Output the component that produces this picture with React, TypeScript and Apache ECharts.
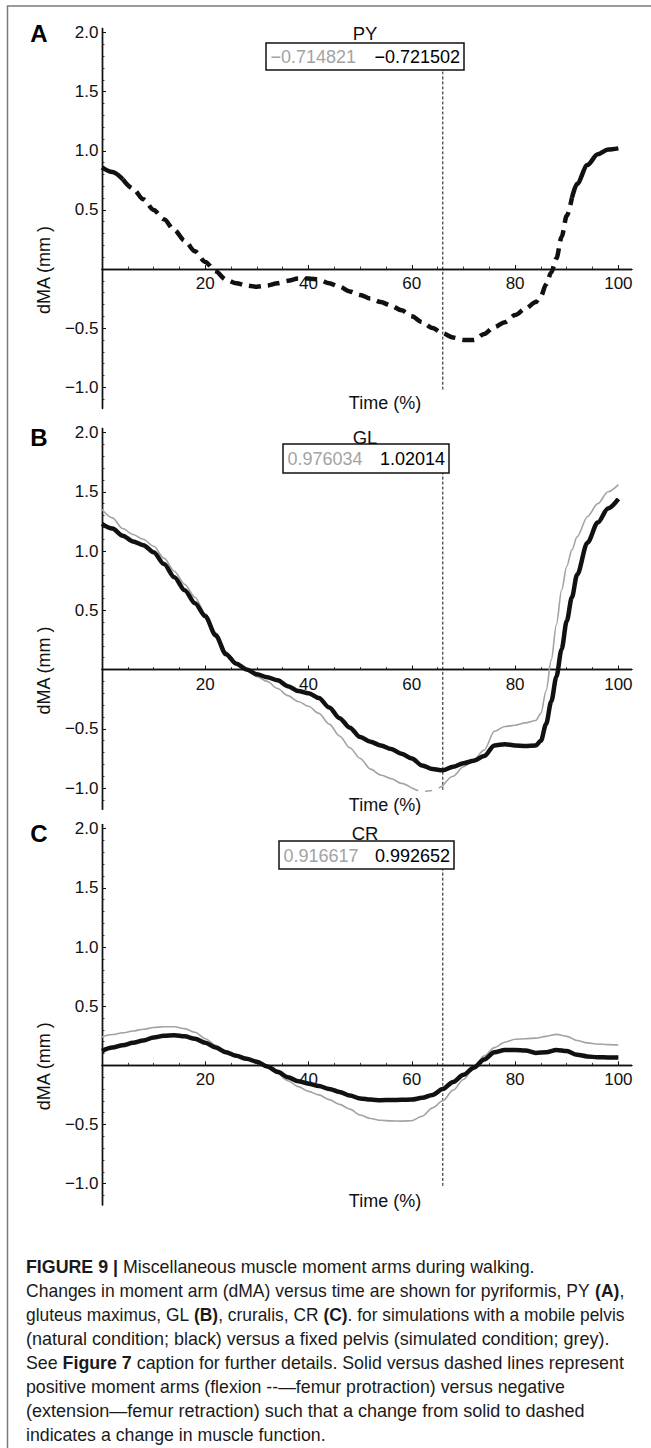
import React, { useEffect, useRef } from "react";
import * as echarts from "echarts";

// ---------- data ----------
const TIME_AB = [0, 2, 4, 6, 8, 10, 12, 14, 16, 18, 20, 22, 24, 26, 28, 30, 32, 34, 36, 38, 40, 42, 44, 46, 48, 50, 52, 54, 56, 58, 60, 62, 64, 66, 68, 70, 72, 74, 76, 78, 80, 82, 84, 85, 86, 87, 88, 89, 90, 91, 92, 94, 96, 98, 100];
const PY_BLACK = [0.86, 0.82, 0.76, 0.68, 0.59, 0.5, 0.42, 0.33, 0.24, 0.15, 0.06, -0.02, -0.09, -0.12, -0.14, -0.15, -0.14, -0.12, -0.1, -0.08, -0.08, -0.09, -0.12, -0.15, -0.19, -0.22, -0.25, -0.28, -0.31, -0.35, -0.4, -0.45, -0.5, -0.545, -0.58, -0.6, -0.6, -0.55, -0.49, -0.45, -0.39, -0.335, -0.28, -0.23, -0.13, -0.03, 0.09, 0.27, 0.45, 0.6, 0.72, 0.88, 0.97, 1.01, 1.02];
const GL_BLACK = [1.23, 1.19, 1.13, 1.08, 1.05, 0.99, 0.89, 0.78, 0.67, 0.56, 0.45, 0.29, 0.13, 0.05, 0.0, -0.04, -0.065, -0.09, -0.14, -0.18, -0.2, -0.24, -0.32, -0.41, -0.49, -0.57, -0.61, -0.64, -0.67, -0.71, -0.75, -0.81, -0.84, -0.85, -0.82, -0.79, -0.77, -0.73, -0.64, -0.63, -0.64, -0.645, -0.64, -0.6, -0.46, -0.27, -0.06, 0.17, 0.41, 0.61, 0.8, 1.07, 1.24, 1.36, 1.44];
const GL_GREY = [1.35, 1.28, 1.19, 1.14, 1.1, 1.04, 0.94, 0.83, 0.72, 0.61, 0.47, 0.31, 0.15, 0.06, 0.0, -0.06, -0.1, -0.16, -0.22, -0.27, -0.31, -0.37, -0.46, -0.56, -0.66, -0.75, -0.84, -0.89, -0.92, -0.96, -1.0, -1.03, -1.02, -0.98, -0.9, -0.82, -0.76, -0.68, -0.52, -0.48, -0.47, -0.45, -0.43, -0.37, -0.18, 0.08, 0.38, 0.67, 0.87, 1.01, 1.12, 1.29, 1.4, 1.5, 1.56];
const TIME_C = [0, 2, 4, 6, 8, 10, 12, 14, 16, 18, 20, 22, 24, 26, 28, 30, 32, 34, 36, 38, 40, 42, 44, 46, 48, 50, 52, 54, 56, 58, 60, 62, 64, 66, 68, 70, 72, 74, 76, 78, 80, 82, 84, 86, 88, 90, 92, 94, 96, 98, 100];
const CR_BLACK = [0.12, 0.15, 0.17, 0.19, 0.21, 0.235, 0.25, 0.255, 0.245, 0.225, 0.19, 0.15, 0.11, 0.08, 0.055, 0.03, -0.01, -0.055, -0.1, -0.135, -0.155, -0.175, -0.2, -0.225, -0.255, -0.28, -0.29, -0.295, -0.293, -0.292, -0.29, -0.275, -0.25, -0.2, -0.14, -0.08, -0.02, 0.05, 0.11, 0.13, 0.13, 0.125, 0.105, 0.11, 0.13, 0.12, 0.09, 0.075, 0.068, 0.067, 0.067];
const CR_GREY = [0.24, 0.26, 0.275, 0.29, 0.305, 0.32, 0.326, 0.326, 0.31, 0.28, 0.225, 0.17, 0.12, 0.09, 0.065, 0.03, -0.015, -0.07, -0.13, -0.18, -0.22, -0.25, -0.29, -0.33, -0.37, -0.42, -0.45, -0.465, -0.47, -0.472, -0.468, -0.43, -0.36, -0.3, -0.21, -0.12, -0.02, 0.08, 0.15, 0.195, 0.22, 0.225, 0.23, 0.245, 0.262, 0.245, 0.21, 0.19, 0.18, 0.175, 0.172];

const CURSOR_TIME = 66;
const PANEL_LETTERS = ["A", "B", "C"];
const PANEL_TITLES = ["PY", "GL", "CR"];
const BOX_GREY = ["\u22120.714821", "0.976034", "0.916617"];
const BOX_BLACK = ["\u22120.721502", "1.02014", "0.992652"];

const X_MAJOR = [20, 40, 60, 80, 100];
const X_MINOR = [5, 10, 15, 25, 30, 35, 45, 50, 55, 65, 70, 75, 85, 90, 95];
const Y_MAJOR = [-1, -0.5, 0.5, 1, 1.5, 2];
const Y_MINOR = [-1.1, -0.9, -0.8, -0.7, -0.6, -0.4, -0.3, -0.2, -0.1, 0.1, 0.2, 0.3, 0.4, 0.6, 0.7, 0.8, 0.9, 1.1, 1.2, 1.3, 1.4, 1.6, 1.7, 1.8, 1.9];

const CAPTION: [string, boolean][][] = [
  [["FIGURE 9 |", true], [" Miscellaneous muscle moment arms during walking.", false]],
  [["Changes in moment arm (dMA) versus time are shown for pyriformis, PY ", false], ["(A)", true], [",", false]],
  [["gluteus maximus, GL ", false], ["(B)", true], [", cruralis, CR ", false], ["(C)", true], [". for simulations with a mobile pelvis", false]],
  [["(natural condition; black) versus a fixed pelvis (simulated condition; grey).", false]],
  [["See ", false], ["Figure 7", true], [" caption for further details. Solid versus dashed lines represent", false]],
  [["positive moment arms (flexion --\u2014femur protraction) versus negative", false]],
  [["(extension\u2014femur retraction) such that a change from solid to dashed", false]],
  [["indicates a change in muscle function.", false]],
];

// ---------- layout / style ----------
const FONT = "'Liberation Sans', Arial, Helvetica, sans-serif";
const X_MIN = 0;
const X_MAX = 102.6;
const Y_MIN = -1.18;
const Y_MAX = 2.035;
const GRID_LEFT = 102;
const GRID_WIDTH = 529.8;
const PANEL_LAYOUT = [
  { top: 28.4, height: 380.1, letterY: 33, titleY: 33, box: [266, 43, 198, 27], timeY: 403 },
  { top: 428.4, height: 381.0, letterY: 437, titleY: 437, box: [283, 444, 166, 29], timeY: 805 },
  { top: 824.6, height: 380.3, letterY: 833, titleY: 833, box: [279, 841, 175, 28], timeY: 1201 },
];
const CAPTION_X = 26;
const CAPTION_Y0 = 1267;
const CAPTION_DY = 24;
const CAPTION_RIGHT = [535, 624.5, 624.5, 610, 624.5, 565, 585, 326];
const CAPTION_SIZE = 17.5;
const GREY = "#a3a3a3";
const INK = "#111";

function seg(times: number[], vals: number[], from: number, to: number) {
  const out: number[][] = [];
  for (let i = 0; i < times.length; i++) {
    if (times[i] >= from && times[i] <= to) out.push([times[i], vals[i]]);
  }
  return out;
}

const fmtY = (v: number) => (v < 0 ? "\u2212" : "") + Math.abs(v).toFixed(1);

export default function App() {
  const ref = useRef<HTMLDivElement>(null);
  useEffect(() => {
    if (!ref.current) return;
    const chart = echarts.init(ref.current, undefined, { renderer: "svg" });

    const grids: any[] = [];
    const xAxes: any[] = [];
    const yAxes: any[] = [];
    PANEL_LAYOUT.forEach((p, i) => {
      grids.push({ left: GRID_LEFT, width: GRID_WIDTH, top: p.top, height: p.height, containLabel: false });
      // place the x axis on the zero line of the value axis
      const zeroOffset = -(p.height * (0 - Y_MIN)) / (Y_MAX - Y_MIN);
      const xBase = {
        type: "value", gridIndex: i, min: X_MIN, max: X_MAX, position: "bottom", offset: zeroOffset,
        axisLine: { show: true, onZero: false, lineStyle: { color: INK, width: 1.4 } },
        splitLine: { show: false },
      };
      xAxes.push({
        ...xBase,
        axisTick: { show: true, inside: true, length: 4, lineStyle: { color: INK, width: 1 }, customValues: X_MAJOR },
        axisLabel: { show: true, margin: 6, customValues: X_MAJOR, fontFamily: FONT, fontSize: 17, color: INK },
      });
      xAxes.push({
        ...xBase,
        axisTick: { show: true, inside: true, length: 2.5, lineStyle: { color: INK, width: 0.8 }, customValues: X_MINOR },
        axisLabel: { show: false },
      });
      const yBase = {
        type: "value", gridIndex: i, min: Y_MIN, max: Y_MAX, position: "left",
        axisLine: { show: true, onZero: false, lineStyle: { color: INK, width: 1.4 } },
        splitLine: { show: false },
      };
      yAxes.push({
        ...yBase,
        axisTick: { show: true, inside: true, length: 4, lineStyle: { color: INK, width: 1 }, customValues: Y_MAJOR },
        axisLabel: { show: true, margin: 3.5, customValues: Y_MAJOR, formatter: fmtY, fontFamily: FONT, fontSize: 17, color: INK },
      });
      yAxes.push({
        ...yBase,
        axisTick: { show: true, inside: true, length: 2.5, lineStyle: { color: INK, width: 0.8 }, customValues: Y_MINOR },
        axisLabel: { show: false },
      });
    });

    const line = (panel: number, data: number[][], color: string, width: number, type: any, z: number) => ({
      type: "line", xAxisIndex: panel * 2, yAxisIndex: panel * 2, data,
      showSymbol: false, symbol: "none", smooth: 0.3, smoothMonotone: "x",
      lineStyle: { color, width, type, cap: "butt", join: "round" }, z, silent: true,
    });
    const cursor = (panel: number) =>
      line(panel, [[CURSOR_TIME, 1.67], [CURSOR_TIME, -1.03]], INK, 1, [3, 2], 1);

    const series: any[] = [
      cursor(0),
      line(0, seg(TIME_AB, PY_BLACK, 0, 4), INK, 4.5, "solid", 3),
      line(0, seg(TIME_AB, PY_BLACK, 4, 91), INK, 4.5, [12, 7], 3),
      line(0, seg(TIME_AB, PY_BLACK, 91, 100), INK, 4.5, "solid", 3),
      cursor(1),
      line(1, seg(TIME_AB, GL_GREY, 0, 60), GREY, 1.6, "solid", 2),
      line(1, seg(TIME_AB, GL_GREY, 60, 66), GREY, 1.6, [7, 7], 2),
      line(1, seg(TIME_AB, GL_GREY, 66, 100), GREY, 1.6, "solid", 2),
      line(1, seg(TIME_AB, GL_BLACK, 0, 100), INK, 4.5, "solid", 3),
      cursor(2),
      line(2, seg(TIME_C, CR_GREY, 0, 100), GREY, 1.6, "solid", 2),
      line(2, seg(TIME_C, CR_BLACK, 0, 100), INK, 4.5, "solid", 3),
    ];

    // ---------- graphics ----------
    const ctx = document.createElement("canvas").getContext("2d")!;
    const measure = (parts: [string, boolean][]) => {
      let w = 0;
      for (const [t, b] of parts) {
        ctx.font = `${b ? "bold " : ""}${CAPTION_SIZE}px ${FONT}`;
        w += ctx.measureText(t).width;
      }
      return w;
    };

    const graphics: any[] = [
      { type: "rect", shape: { x: 7.5, y: 6, width: 800, height: 1600 }, style: { fill: "none", stroke: "#7a7a7a", lineWidth: 1.5 }, silent: true },
    ];
    PANEL_LAYOUT.forEach((p, i) => {
      const [bx, by, bw, bh] = p.box;
      const zeroY = p.top + (p.height * Y_MAX) / (Y_MAX - Y_MIN);
      graphics.push(
        { type: "text", x: 39, y: p.letterY, style: { text: PANEL_LETTERS[i], fontFamily: FONT, fontWeight: "bold", fontSize: 24, fill: "#000", align: "center", verticalAlign: "middle" } },
        { type: "text", x: 365, y: p.titleY, style: { text: PANEL_TITLES[i], fontFamily: FONT, fontSize: 18.5, fill: INK, align: "center", verticalAlign: "middle" } },
        { type: "rect", shape: { x: bx, y: by, width: bw, height: bh }, style: { fill: "#fff", stroke: INK, lineWidth: 1.5 }, z: 10 },
        { type: "text", x: bx + 4.5, y: by + bh / 2 + 0.5, z: 11, style: { text: BOX_GREY[i], fontFamily: FONT, fontSize: 18, fill: GREY, align: "left", verticalAlign: "middle" } },
        { type: "text", x: bx + bw - 4, y: by + bh / 2 + 0.5, z: 11, style: { text: BOX_BLACK[i], fontFamily: FONT, fontSize: 18, fill: "#000", align: "right", verticalAlign: "middle" } },
        { type: "text", x: 43.5, y: zeroY + 1, rotation: Math.PI / 2, style: { text: "dMA (mm )", fontFamily: FONT, fontSize: 18, fill: INK, align: "center", verticalAlign: "middle" } },
        { type: "text", x: 385, y: p.timeY, style: { text: "Time (%)", fontFamily: FONT, fontSize: 18, fill: INK, align: "center", verticalAlign: "middle" } },
      );
    });
    CAPTION.forEach((parts, i) => {
      const w = measure(parts);
      const sx = (CAPTION_RIGHT[i] - CAPTION_X) / w;
      const text = parts.map(([t, b]) => (b ? `{b|${t}}` : `{r|${t}}`)).join("");
      graphics.push({
        type: "text", x: CAPTION_X, y: CAPTION_Y0 + i * CAPTION_DY, scaleX: sx, scaleY: 1,
        style: {
          text, fontFamily: FONT, fontSize: CAPTION_SIZE, fill: "#1a1a1a", align: "left", verticalAlign: "middle",
          rich: {
            r: { fontFamily: FONT, fontSize: CAPTION_SIZE, fill: "#1a1a1a" },
            b: { fontFamily: FONT, fontSize: CAPTION_SIZE, fontWeight: "bold", fill: "#1a1a1a" },
          },
        },
      });
    });

    chart.setOption({
      animation: false,
      backgroundColor: "#fff",
      grid: grids,
      xAxis: xAxes,
      yAxis: yAxes,
      series,
      graphic: graphics,
    });
    return () => chart.dispose();
  }, []);

  return <div ref={ref} style={{ position: "absolute", left: 0, top: 0, width: 651, height: 1448 }} />;
}
